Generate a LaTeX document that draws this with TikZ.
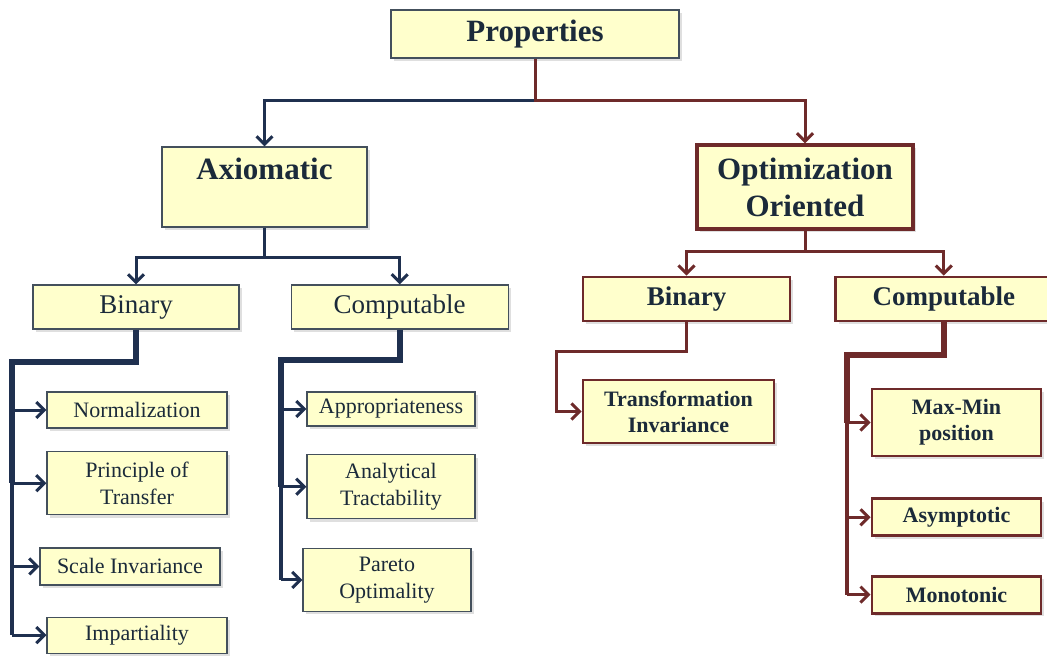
\documentclass[tikz,border=0pt]{standalone}
\usepackage{fontspec}
\setmainfont{Liberation Serif}
\usetikzlibrary{arrows.meta,positioning,shadows}

\definecolor{boxfill}{HTML}{FFFFCC}
\definecolor{navyline}{HTML}{1F304F}
\definecolor{wineline}{HTML}{6E2A2A}
\definecolor{inktext}{HTML}{1B2A3A}
\definecolor{slateedge}{HTML}{44505C}

\begin{document}
\begin{tikzpicture}[
  x=1pt, y=-1pt,
  box/.style={rectangle, draw=slateedge, line width=1.2pt, fill=boxfill, text=inktext, align=center,
    drop shadow={shadow xshift=3pt, shadow yshift=-3pt, opacity=0.25}},
  headbox/.style={box, font=\fontsize{31}{37}\selectfont\bfseries},
  midbox/.style={box, minimum height=44pt, font=\fontsize{27}{32}\selectfont},
  leafbox/.style={box, font=\fontsize{22}{27}\selectfont},
  winebox/.style={draw=wineline, line width=2.8pt},
  winemid/.style={midbox, winebox, font=\fontsize{27}{32}\selectfont\bfseries},
  wineleaf/.style={leafbox, winebox, font=\fontsize{22}{26}\selectfont\bfseries},
  navyconn/.style={draw=navyline, line width=3pt},
  wineconn/.style={draw=wineline, line width=3pt},
  trunk/.style={line width=6pt},
  arrow/.style={-{Straight Barb[length=8pt,width=16pt]}}
]
\useasboundingbox (0,0) rectangle (1047,657);

% Top levels
\node[headbox, minimum width=288pt, minimum height=48pt] (prop) at (535,34) {Properties};
\node[headbox, minimum width=205pt, minimum height=80pt] (axio) at (264.5,187) {Axiomatic\\\phantom{A}};
\node[headbox, winebox, line width=3.4pt, minimum width=216pt, minimum height=84pt] (optim) at (805,187) {Optimization\\Oriented};

% Second level
\node[midbox, minimum width=206pt] (binA) at (136,307) {Binary};
\node[midbox, minimum width=217pt, right=51pt of binA] (compA) {Computable};
\node[winemid, minimum width=207pt] (binB) at (686.5,299) {Binary};
\node[winemid, minimum width=216pt, right=43pt of binB] (compB) {Computable};

% Axiomatic leaves
\node[leafbox, minimum width=180pt, minimum height=36pt] (norm) at (137,410) {Normalization};
\node[leafbox, minimum width=180pt, minimum height=63pt, below=22.5pt of norm] (transfer) {Principle of\\Transfer};
\node[leafbox, minimum width=180pt, minimum height=37pt, below=32pt of transfer, xshift=-7pt] (scaleinv) {Scale Invariance};
\node[leafbox, minimum width=180pt, minimum height=36pt, below=31pt of scaleinv, xshift=7pt] (impart) {Impartiality};

\node[leafbox, minimum width=168pt, minimum height=34pt] (appro) at (391,409) {Appropriateness};
\node[leafbox, minimum width=168pt, minimum height=64pt, below=27.5pt of appro] (analyt) {Analytical\\Tractability};
\node[leafbox, minimum width=168pt, minimum height=63pt, below=28.5pt of analyt, xshift=-4pt] (pareto) {Pareto\\Optimality};

% Optimization leaves
\node[wineleaf, minimum width=191pt, minimum height=63pt] (trans) at (678.5,411.5) {Transformation\\Invariance};
\node[wineleaf, minimum width=169pt, minimum height=67pt] (maxmin) at (956.5,422.5) {Max-Min\\position};
\node[wineleaf, minimum width=169pt, minimum height=37pt, below=40pt of maxmin] (asym) {Asymptotic};
\node[wineleaf, minimum width=169pt, minimum height=37pt, below=37.5pt of asym] (mono) {Monotonic};

% Connect the levels
\draw[navyconn, arrow] (prop.south) -- ++(0,42) -| (axio.north);
\draw[wineconn, arrow] (prop.south) -- ++(0,42) -| (optim.north);
\draw[navyconn, arrow] (axio.south) -- ++(0,30) -| (binA.north);
\draw[navyconn, arrow] (axio.south) -- ++(0,30) -| (compA.north);
\draw[wineconn, arrow] (optim.south) -- ++(0,21) -| (binB.north);
\draw[wineconn, arrow] (optim.south) -- ++(0,21) -| (compB.north);

% Buses to the leaves
\coordinate (busA) at (12,362);
\coordinate (busB) at (281,360);
\coordinate (busC) at (556,351);
\coordinate (busD) at (847,355);

\draw[navyconn, trunk] (binA.south) |- (busA) -- (busA |- transfer.west);
\draw[navyconn, line width=3.5pt] (busA |- transfer.west) -- (busA |- impart.west);
\foreach \leaf in {norm, transfer, scaleinv, impart}
  \draw[navyconn, arrow] (busA |- \leaf.west) -- (\leaf.west);

\draw[navyconn, trunk] (compA.south) |- (busB) -- (busB |- analyt.west);
\draw[navyconn, line width=3.5pt] (busB |- analyt.west) -- (busB |- pareto.west);
\foreach \leaf in {appro, analyt, pareto}
  \draw[navyconn, arrow] (busB |- \leaf.west) -- (\leaf.west);

\draw[wineconn, arrow] (binB.south) |- (busC) |- (trans.west);

\draw[wineconn, trunk] (compB.south) |- (busD) -- (busD |- maxmin.west);
\draw[wineconn, line width=3.5pt] (busD |- maxmin.west) -- (busD |- mono.west);
\foreach \leaf in {maxmin, asym, mono}
  \draw[wineconn, arrow] (busD |- \leaf.west) -- (\leaf.west);

\end{tikzpicture}
\end{document}
